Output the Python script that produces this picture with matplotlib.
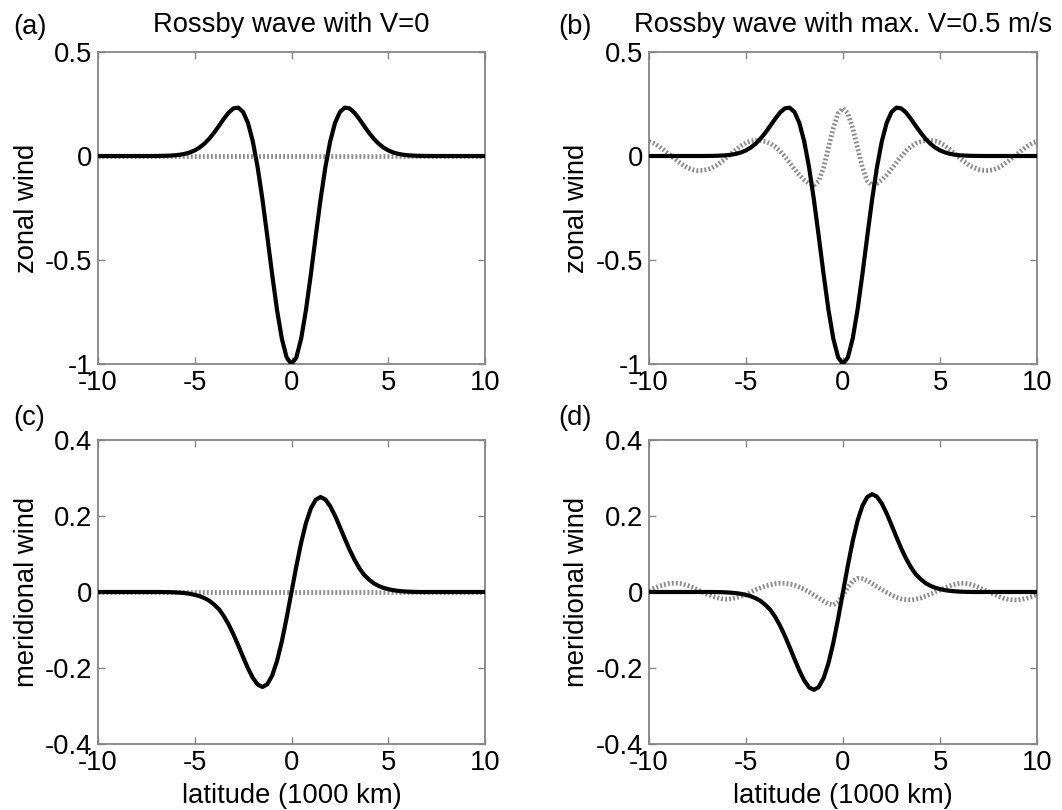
import numpy as np
import matplotlib
matplotlib.use("Agg")
import matplotlib.pyplot as plt

# latitude grid (1000 km), 0.25 spacing
lat = np.linspace(-10, 10, 81)

# zonal wind, solid curve (same in a and b)
u_zonal = [
    0, 0, 0, 0, 0, 0, 0, 0, 0, 0, 0, 0,
    0.0003, 0.0006, 0.0011, 0.0021, 0.0037, 0.0064, 0.0107, 0.0173, 0.0270, 0.0408,
    0.0594, 0.0833, 0.1122, 0.1448, 0.1784, 0.2085, 0.2290, 0.2325, 0.2114, 0.1589,
    0.0705, -0.0539, -0.2097, -0.3866, -0.5692, -0.7392, -0.8778, -0.9685,
    -1.0,
    -0.9685, -0.8778, -0.7392, -0.5692, -0.3866, -0.2097, -0.0539, 0.0705,
    0.1589, 0.2114, 0.2325, 0.2290, 0.2085, 0.1784, 0.1448, 0.1122, 0.0833, 0.0594,
    0.0408, 0.0270, 0.0173, 0.0107, 0.0064, 0.0037, 0.0021, 0.0011, 0.0006, 0.0003,
    0, 0, 0, 0, 0, 0, 0, 0, 0, 0, 0, 0,
]

# zonal wind, dotted curve in b
u_dotted_b = [
    0.070, 0.061, 0.047, 0.030, 0.011, -0.008, -0.026, -0.043, -0.057, -0.066,
    -0.070, -0.069, -0.065, -0.057, -0.044, -0.027, -0.008, 0.012, 0.032, 0.050,
    0.064, 0.072, 0.075, 0.074, 0.069, 0.060, 0.045, 0.024, -0.002, -0.032,
    -0.063, -0.091, -0.115, -0.132, -0.140, -0.120, -0.055, 0.040, 0.135, 0.205,
    0.230,
    0.205, 0.135, 0.040, -0.055, -0.120, -0.140, -0.132, -0.115, -0.091, -0.063,
    -0.032, -0.002, 0.024, 0.045, 0.060, 0.069, 0.074, 0.075, 0.072, 0.064,
    0.050, 0.032, 0.012, -0.008, -0.027, -0.044, -0.057, -0.065, -0.069, -0.070,
    -0.066, -0.057, -0.043, -0.026, -0.008, 0.011, 0.030, 0.047, 0.061, 0.070,
]

# meridional wind, solid curve in c
v_merid_c = [
    0, 0, 0, 0, 0, 0, 0, 0, 0, 0, 0, 0, 0, 0,
    -0.0002, -0.0005, -0.0010, -0.0018, -0.0030, -0.0048, -0.0075, -0.0110, -0.0160, -0.0230,
    -0.0330, -0.0453, -0.0632, -0.0854, -0.1116, -0.1408, -0.1713, -0.2007, -0.2259, -0.2435,
    -0.2500, -0.2427, -0.2200, -0.1819, -0.1300, -0.0678,
    0.0,
    0.0678, 0.1300, 0.1819, 0.2200, 0.2427, 0.2500,
    0.2435, 0.2259, 0.2007, 0.1713, 0.1408, 0.1116, 0.0854, 0.0632, 0.0453, 0.0330,
    0.0230, 0.0160, 0.0110, 0.0075, 0.0048, 0.0030, 0.0018, 0.0010, 0.0005, 0.0002,
    0, 0, 0, 0, 0, 0, 0, 0, 0, 0, 0, 0, 0, 0,
]

# meridional wind, solid curve in d
v_merid_d = [
    0, 0, 0, 0, 0, 0, 0, 0, 0, 0, 0, 0, 0, 0,
    -0.0002, -0.0005, -0.0010, -0.0019, -0.0031, -0.0049, -0.0077, -0.0113, -0.0165, -0.0237,
    -0.0340, -0.0467, -0.0651, -0.0880, -0.1149, -0.1450, -0.1764, -0.2067, -0.2327, -0.2508,
    -0.2575, -0.2500, -0.2266, -0.1873, -0.1339, -0.0698,
    0.0,
    0.0698, 0.1339, 0.1873, 0.2266, 0.2500, 0.2575,
    0.2508, 0.2327, 0.2067, 0.1764, 0.1450, 0.1149, 0.0880, 0.0651, 0.0467, 0.0340,
    0.0237, 0.0165, 0.0113, 0.0077, 0.0049, 0.0031, 0.0019, 0.0010, 0.0005, 0.0002,
    0, 0, 0, 0, 0, 0, 0, 0, 0, 0, 0, 0, 0, 0,
]

# meridional wind, dotted curve in d
v_dotted_d = [
    0.004, 0.010, 0.015, 0.019, 0.022, 0.023, 0.023, 0.021, 0.017, 0.012,
    0.006, 0.000, -0.006, -0.011, -0.015, -0.018, -0.019, -0.018, -0.015, -0.011,
    -0.006, 0.000, 0.006, 0.011, 0.016, 0.019, 0.022, 0.023, 0.023, 0.021,
    0.018, 0.013, 0.007, 0.000, -0.008, -0.016, -0.024, -0.031, -0.034, -0.026,
    -0.008,
    0.012, 0.029, 0.036, 0.035, 0.030, 0.022, 0.014, 0.006, -0.001, -0.008,
    -0.014, -0.018, -0.020, -0.021, -0.019, -0.016, -0.011, -0.006, 0.000, 0.005,
    0.011, 0.016, 0.020, 0.023, 0.023, 0.021, 0.017, 0.012, 0.006, 0.001,
    -0.005, -0.011, -0.016, -0.019, -0.021, -0.021, -0.019, -0.016, -0.012, -0.007,
]

# V=0 case: the dotted curve is flat
flat_lat = [-10, 10]
flat_val = [0, 0]

plt.rcParams["font.family"] = ["Liberation Sans", "DejaVu Sans"]
plt.rcParams["font.size"] = 19.7
plt.rcParams["axes.unicode_minus"] = False

W, H = 1062, 810
fig = plt.figure(figsize=(W / 100, H / 100), dpi=100)


def px_axes(l, t, r, b):
    return fig.add_axes([l / W, 1 - b / H, (r - l) / W, (b - t) / H])


def style(ax, ylim, yticks, ylabels):
    ax.set_xlim(-10, 10)
    ax.set_ylim(*ylim)
    ax.set_xticks([-10, -5, 0, 5, 10])
    ax.set_xticklabels(["-10", "-5", "0", "5", "10"])
    ax.set_yticks(yticks)
    ax.set_yticklabels(ylabels)
    ax.tick_params(direction="in", top=True, right=True, length=5, width=1,
                   color="#888888", labelsize=19.7, pad=4)
    for s in ax.spines.values():
        s.set_color("#858585")
        s.set_linewidth(1.3)


grey = "#8c8c8c"
dots = (0, (0.4, 0.45))
solid = dict(color="black", lw=3.0, zorder=3, solid_joinstyle="round",
             solid_capstyle="round")
dotted = dict(color=grey, lw=3.4, ls=dots, zorder=2)

ax_a = px_axes(98, 52, 485, 364)
ax_b = px_axes(649, 52, 1037, 364)
ax_c = px_axes(98, 440, 485, 744)
ax_d = px_axes(649, 440, 1037, 744)

ax_a.plot(flat_lat, flat_val, **dotted)
ax_a.plot(lat, u_zonal, **solid)
ax_b.plot(lat, u_dotted_b, **dotted)
ax_b.plot(lat, u_zonal, **solid)
ax_c.plot(flat_lat, flat_val, **dotted)
ax_c.plot(lat, v_merid_c, **solid)
ax_d.plot(lat, v_dotted_d, **dotted)
ax_d.plot(lat, v_merid_d, **solid)

for ax in (ax_a, ax_b):
    style(ax, (-1, 0.5), [-1, -0.5, 0, 0.5], ["-1", "-0.5", "0", "0.5"])
for ax in (ax_c, ax_d):
    style(ax, (-0.4, 0.4), [-0.4, -0.2, 0, 0.2, 0.4],
          ["-0.4", "-0.2", "0", "0.2", "0.4"])

# panel letters and titles
fig.text(13 / W, 1 - 27 / H, "(a)", ha="left", va="center")
fig.text(558 / W, 1 - 27 / H, "(b)", ha="left", va="center")
fig.text(13 / W, 1 - 418 / H, "(c)", ha="left", va="center")
fig.text(558 / W, 1 - 418 / H, "(d)", ha="left", va="center")
fig.text(291.5 / W, 1 - 25 / H, "Rossby wave with V=0", ha="center", va="center")
fig.text(843 / W, 1 - 25 / H, "Rossby wave with max. V=0.5 m/s", ha="center", va="center")

# axis labels
fig.text(27 / W, 1 - 208 / H, "zonal wind", rotation=90, ha="center", va="center")
fig.text(577 / W, 1 - 208 / H, "zonal wind", rotation=90, ha="center", va="center")
fig.text(27 / W, 1 - 592 / H, "meridional wind", rotation=90, ha="center", va="center")
fig.text(577 / W, 1 - 592 / H, "meridional wind", rotation=90, ha="center", va="center")
fig.text(291.5 / W, 1 - 796 / H, "latitude (1000 km)", ha="center", va="center")
fig.text(843 / W, 1 - 796 / H, "latitude (1000 km)", ha="center", va="center")

fig.savefig("out.png", dpi=100)
